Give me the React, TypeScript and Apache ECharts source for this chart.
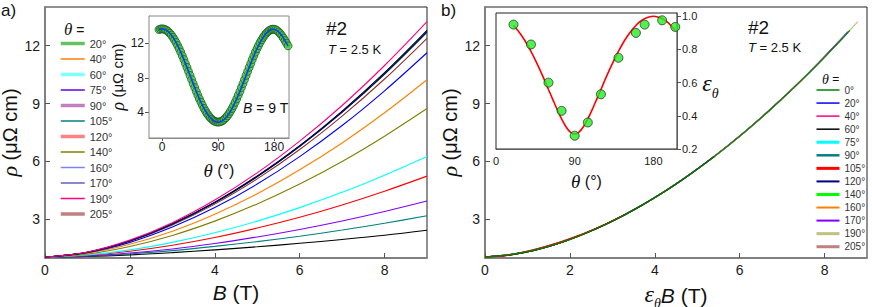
import React, { useEffect, useRef } from 'react';
import * as echarts from 'echarts';

// ---------- data ----------
const B_FIELD = [0, 1, 2, 3, 4, 5, 6, 7, 8, 9];
const THETA_ALL = [0, 20, 40, 60, 75, 90, 105, 120, 140, 160, 170, 190, 205];

const RHO_0 = [1.05, 1.3, 1.89, 2.77, 3.89, 5.25, 6.82, 8.61, 10.6, 12.79];
const RHO_20 = [1.05, 1.3, 1.89, 2.75, 3.86, 5.21, 6.77, 8.54, 10.51, 12.68];
const RHO_40 = [1.05, 1.25, 1.71, 2.39, 3.27, 4.33, 5.57, 6.96, 8.52, 10.23];
const RHO_60 = [1.05, 1.16, 1.42, 1.81, 2.31, 2.91, 3.61, 4.4, 5.29, 6.26];
const RHO_75 = [1.05, 1.11, 1.26, 1.47, 1.75, 2.09, 2.48, 2.92, 3.41, 3.95];
const RHO_90 = [1.05, 1.08, 1.16, 1.28, 1.42, 1.58, 1.76, 1.96, 2.18, 2.44];
const RHO_105 = [1.05, 1.1, 1.21, 1.38, 1.6, 1.85, 2.13, 2.45, 2.8, 3.19];
const RHO_120 = [1.05, 1.14, 1.35, 1.66, 2.06, 2.55, 3.11, 3.75, 4.46, 5.24];
const RHO_140 = [1.05, 1.21, 1.6, 2.17, 2.91, 3.8, 4.83, 6.0, 7.31, 8.74];
const RHO_160 = [1.05, 1.28, 1.81, 2.6, 3.61, 4.83, 6.25, 7.86, 9.66, 11.63];
const RHO_170 = [1.05, 1.3, 1.89, 2.76, 3.87, 5.22, 6.79, 8.56, 10.54, 12.72];
const RHO_190 = [1.05, 1.31, 1.93, 2.83, 4.0, 5.41, 7.05, 8.9, 10.97, 13.24];
const RHO_205 = [1.05, 1.29, 1.87, 2.71, 3.79, 5.1, 6.62, 8.35, 10.27, 12.38];
const RHO_BY_THETA = [RHO_0, RHO_20, RHO_40, RHO_60, RHO_75, RHO_90, RHO_105, RHO_120, RHO_140, RHO_160, RHO_170, RHO_190, RHO_205];

// scaling factor eps_theta used on the x axis of panel b (0 deg not shown in inset)
const EPS_0 = 0.955;
const EPS_THETA = [20, 40, 60, 75, 90, 105, 120, 140, 160, 170, 190, 205];
const EPS_VALUES = [0.95, 0.83, 0.6, 0.43, 0.28, 0.36, 0.53, 0.75, 0.9, 0.95, 0.976, 0.936];

// fit of eps_theta (red line in inset b)
const FIT_THETA = [20, 25, 30, 35, 40, 45, 50, 55, 60, 65, 70, 75, 80, 85, 90, 95, 100, 105, 110, 115, 120, 125, 130, 135, 140, 145, 150, 155, 160, 165, 170, 175, 180, 185, 190, 195, 200, 205];
const FIT_EPS = [0.945, 0.915, 0.878, 0.836, 0.788, 0.736, 0.68, 0.621, 0.559, 0.498, 0.437, 0.381, 0.334, 0.302, 0.29, 0.302, 0.334, 0.381, 0.437, 0.498, 0.559, 0.621, 0.68, 0.736, 0.788, 0.836, 0.878, 0.915, 0.945, 0.969, 0.986, 0.996, 1.0, 0.996, 0.986, 0.969, 0.945, 0.915];

// inset a: rho(theta) at B = 9 T
const INSET_THETA = [-5, -2.5, 0, 2.5, 5, 7.5, 10, 12.5, 15, 17.5, 20, 22.5, 25, 27.5, 30, 32.5, 35, 37.5, 40, 42.5, 45, 47.5, 50, 52.5, 55, 57.5, 60, 62.5, 65, 67.5, 70, 72.5, 75, 77.5, 80, 82.5, 85, 87.5, 90, 92.5, 95, 97.5, 100, 102.5, 105, 107.5, 110, 112.5, 115, 117.5, 120, 122.5, 125, 127.5, 130, 132.5, 135, 137.5, 140, 142.5, 145, 147.5, 150, 152.5, 155, 157.5, 160, 162.5, 165, 167.5, 170, 172.5, 175, 177.5, 180, 182.5, 185, 187.5, 190, 192.5, 195, 197.5, 200, 202.5];
const INSET_RHO = [13.62, 13.68, 13.7, 13.68, 13.62, 13.52, 13.37, 13.19, 12.97, 12.72, 12.43, 12.11, 11.76, 11.39, 10.99, 10.57, 10.13, 9.68, 9.22, 8.75, 8.28, 7.8, 7.33, 6.87, 6.42, 5.98, 5.56, 5.16, 4.79, 4.44, 4.12, 3.83, 3.58, 3.36, 3.18, 3.03, 2.93, 2.87, 2.85, 2.87, 2.93, 3.03, 3.18, 3.36, 3.58, 3.83, 4.12, 4.44, 4.79, 5.16, 5.56, 5.98, 6.42, 6.87, 7.33, 7.8, 8.28, 8.75, 9.22, 9.68, 10.13, 10.57, 10.99, 11.39, 11.76, 12.11, 12.43, 12.72, 12.97, 13.19, 13.37, 13.52, 13.62, 13.66, 13.66, 13.6, 13.5, 13.34, 13.14, 12.9, 12.63, 12.33, 12.02, 11.72];

// tick values
const MAIN_X_TICKS = [0, 2, 4, 6, 8];
const MAIN_Y_TICKS = [3, 6, 9, 12];
const INSET_A_X_TICKS = [0, 90, 180];
const INSET_A_Y_TICKS = [4, 8, 12];
const INSET_B_X_TICKS = [0, 90, 180];
const INSET_B_Y_TICKS = [0.2, 0.4, 0.6, 0.8, 1.0];

// ---------- styles ----------
const SANS = 'Arial, "Liberation Sans", Helvetica, sans-serif';
const SERIF = '"Times New Roman", "Liberation Serif", serif';

const A_LINE_COLORS: Record<number, string> = {
  0: '#000000', 20: '#008000', 40: '#ff8000', 60: '#00ffff', 75: '#8000ff', 90: '#000000',
  105: '#008080', 120: '#ff0000', 140: '#808000', 160: '#0000ff', 170: '#000080', 190: '#ff0080', 205: '#903030',
};
const A_LEGEND_STYLE: Record<number, [string, number]> = {
  20: ['#66c066', 3.5], 40: ['#ff8000', 1.5], 60: ['#80ffff', 3.5], 75: ['#6000e0', 1.5], 90: ['#c080c0', 3.5],
  105: ['#008080', 1.5], 120: ['#ff8080', 3.5], 140: ['#808000', 1.5], 160: ['#8080ff', 1.5], 170: ['#6060c0', 1.5],
  190: ['#ff0080', 1.5], 205: ['#c08080', 3.5],
};
const A_DRAW_ORDER = [90, 105, 75, 120, 60, 140, 40, 160, 205, 20, 0, 170, 190];

const B_LINE_STYLE: Record<number, [string, number]> = {
  0: ['#008000', 1.5], 20: ['#0000ff', 1.5], 40: ['#ff0080', 1.5], 60: ['#000000', 1.5], 75: ['#00ffff', 3],
  90: ['#008080', 2.5], 105: ['#ff0000', 3], 120: ['#000080', 2], 140: ['#00ff00', 3], 160: ['#ff8000', 2],
  170: ['#8000ff', 2], 190: ['#c0c080', 3], 205: ['#c08080', 3],
};
const B_DRAW_ORDER = [20, 40, 75, 90, 120, 140, 160, 170, 190, 205, 60, 105, 0];

function epsFor(theta: number): number {
  if (theta === 0) return EPS_0;
  return EPS_VALUES[EPS_THETA.indexOf(theta)];
}
function rhoFor(theta: number): number[] {
  return RHO_BY_THETA[THETA_ALL.indexOf(theta)];
}

const labelStyle = { fontFamily: SANS, color: '#1a1a1a' };

function buildOption() {
  const series: any[] = [];

  A_DRAW_ORDER.forEach((t) => {
    const rho = rhoFor(t);
    series.push({
      type: 'line', name: 'a' + t, xAxisIndex: 0, yAxisIndex: 0,
      data: B_FIELD.map((b, k) => [b, rho[k]]),
      smooth: 0.35, symbol: 'none', showSymbol: false,
      lineStyle: { color: A_LINE_COLORS[t], width: 1.1 }, itemStyle: { color: A_LINE_COLORS[t] },
      z: 3,
    });
  });

  series.push({
    type: 'scatter', name: 'insetA', xAxisIndex: 1, yAxisIndex: 1,
    data: INSET_THETA.map((t, i) => [t, INSET_RHO[i]]),
    symbol: 'circle', symbolSize: 8,
    itemStyle: { color: '#3ad13a', borderColor: '#1a3a1a', borderWidth: 0.8 }, z: 5,
  });
  series.push({
    type: 'line', name: 'insetAfit', xAxisIndex: 1, yAxisIndex: 1,
    data: INSET_THETA.map((t, i) => [t, INSET_RHO[i]]),
    smooth: 0.3, symbol: 'none', lineStyle: { color: '#2030ff', width: 1.6 }, z: 6,
  });

  B_DRAW_ORDER.forEach((t) => {
    const rho = rhoFor(t);
    const e = epsFor(t);
    const [c] = B_LINE_STYLE[t];
    series.push({
      type: 'line', name: 'b' + t, xAxisIndex: 2, yAxisIndex: 2,
      data: B_FIELD.map((b, k) => [e * b, rho[k]]),
      smooth: 0.35, symbol: 'none', showSymbol: false,
      lineStyle: { color: c, width: 1.2 }, itemStyle: { color: c }, z: 3,
    });
  });

  series.push({
    type: 'line', name: 'insetBfit', xAxisIndex: 3, yAxisIndex: 3,
    data: FIT_THETA.map((t, i) => [t, FIT_EPS[i]]),
    smooth: 0.3, symbol: 'none', lineStyle: { color: '#ff0000', width: 1.6 }, z: 5,
  });
  series.push({
    type: 'scatter', name: 'insetBpts', xAxisIndex: 3, yAxisIndex: 3,
    data: EPS_THETA.map((t, i) => [t, EPS_VALUES[i]]),
    symbol: 'circle', symbolSize: 9,
    itemStyle: { color: '#22ee22', borderColor: '#222', borderWidth: 0.9 }, z: 6,
  });

  const mainX = (gridIndex: number, name: string, rich: any, gap: number) => ({
    type: 'value', gridIndex, min: 0, max: 9,
    axisLine: { show: true, onZero: false, lineStyle: { color: '#808080', width: 2 } },
    axisTick: { show: true, inside: true, length: 5, customValues: MAIN_X_TICKS, lineStyle: { color: '#555', width: 1 } },
    axisLabel: { customValues: MAIN_X_TICKS, fontSize: 14, margin: 5, ...labelStyle },
    splitLine: { show: false },
    name, nameLocation: 'middle', nameGap: gap,
    nameTextStyle: { fontSize: 21, fontFamily: SANS, color: '#111', rich },
  });
  const mainY = (gridIndex: number) => ({
    type: 'value', gridIndex, min: 1, max: 14,
    axisLine: { show: true, onZero: false, lineStyle: { color: '#808080', width: 2 } },
    axisTick: { show: true, inside: true, length: 5, customValues: MAIN_Y_TICKS, lineStyle: { color: '#555', width: 1 } },
    axisLabel: { customValues: MAIN_Y_TICKS, fontSize: 14, margin: 5, ...labelStyle },
    splitLine: { show: false },
    name: '{r|ρ} (μΩ cm)', nameLocation: 'middle', nameGap: 20,
    nameTextStyle: {
      fontSize: 20, fontFamily: SANS, color: '#111',
      rich: { r: { fontFamily: SERIF, fontStyle: 'italic', fontSize: 22, color: '#111' } },
    },
  });

  // subscript theta: all tokens bottom-aligned, large tokens lifted by bottom padding
  const bRich = {
    e: { fontFamily: SERIF, fontStyle: 'italic', fontSize: 24, lineHeight: 22, color: '#111', verticalAlign: 'bottom', padding: [0, 0, 5, 0] },
    s: { fontFamily: SERIF, fontStyle: 'italic', fontSize: 14, lineHeight: 14, color: '#111', verticalAlign: 'bottom' },
    i: { fontFamily: SANS, fontStyle: 'italic', fontSize: 21, lineHeight: 22, color: '#111', verticalAlign: 'bottom', padding: [0, 0, 5, 0] },
    n: { fontFamily: SANS, fontSize: 21, lineHeight: 22, color: '#111', verticalAlign: 'bottom', padding: [0, 0, 5, 0] },
  };

  const xAxis = [
    mainX(0, '{i|B} (T)', { i: { fontFamily: SANS, fontStyle: 'italic', fontSize: 21, color: '#111' } }, 24),
    {
      type: 'value', gridIndex: 1, min: -21, max: 204,
      axisLine: { show: true, onZero: false, lineStyle: { color: '#888', width: 1 } },
      axisTick: { show: true, inside: false, length: 3, customValues: INSET_A_X_TICKS, lineStyle: { color: '#666' } },
      axisLabel: { customValues: INSET_A_X_TICKS, fontSize: 12, margin: 3, ...labelStyle },
      splitLine: { show: false },
      name: '{t|θ} (°)', nameLocation: 'middle', nameGap: 23,
      nameTextStyle: { fontSize: 16, fontFamily: SANS, color: '#111', rich: { t: { fontFamily: SERIF, fontStyle: 'italic', fontSize: 19, color: '#111' } } },
    },
    mainX(2, '{e|ε}{s|θ}{i|B}{n| (T)}', bRich, 15),
    {
      type: 'value', gridIndex: 3, min: 0, max: 207,
      axisLine: { show: true, onZero: false, lineStyle: { color: '#808080', width: 1.5 } },
      axisTick: { show: true, inside: true, length: 4, customValues: INSET_B_X_TICKS, lineStyle: { color: '#555' } },
      axisLabel: { customValues: INSET_B_X_TICKS, fontSize: 11, margin: 6, ...labelStyle },
      splitLine: { show: false },
      name: '{t|θ} (°)', nameLocation: 'middle', nameGap: 23,
      nameTextStyle: { fontSize: 16, fontFamily: SANS, color: '#111', rich: { t: { fontFamily: SERIF, fontStyle: 'italic', fontSize: 19, color: '#111' } } },
    },
  ];

  const yAxis = [
    mainY(0),
    {
      type: 'value', gridIndex: 1, min: 1, max: 15.2,
      axisLine: { show: true, onZero: false, lineStyle: { color: '#888', width: 1 } },
      axisTick: { show: true, inside: false, length: 4, customValues: INSET_A_Y_TICKS, lineStyle: { color: '#555' } },
      axisLabel: { customValues: INSET_A_Y_TICKS, fontSize: 12, margin: 5, ...labelStyle },
      splitLine: { show: false },
      name: '{r|ρ} (μΩ cm)', nameLocation: 'middle', nameGap: 21,
      nameTextStyle: { fontSize: 15, fontFamily: SANS, color: '#111', rich: { r: { fontFamily: SERIF, fontStyle: 'italic', fontSize: 18, color: '#111' } } },
    },
    mainY(2),
    {
      type: 'value', gridIndex: 3, min: 0.2, max: 1.02, position: 'right',
      axisLine: { show: true, onZero: false, lineStyle: { color: '#808080', width: 1.5 } },
      axisTick: { show: true, inside: false, length: 4, customValues: INSET_B_Y_TICKS, lineStyle: { color: '#555' } },
      axisLabel: { customValues: INSET_B_Y_TICKS, fontSize: 11, margin: 5, formatter: (v: number) => v.toFixed(1), ...labelStyle },
      splitLine: { show: false },
      name: '{e|ε}{s|θ}', nameLocation: 'middle', nameGap: 20, nameRotate: 0,
      nameTextStyle: { rich: bRich, padding: [16, 0, 0, 0] },
    },
  ];

  const legendFormatter = (name: string) => name.slice(1) + '°';

  const legendA = {
    type: 'plain', orient: 'vertical', left: 59, top: 38, padding: 0, itemWidth: 24, itemHeight: 10, itemGap: 4.5,
    selectedMode: false, formatter: legendFormatter,
    textStyle: { fontSize: 11, fontFamily: SANS, color: '#333' },
    data: THETA_ALL.filter((t) => t !== 0).map((t) => ({
      name: 'a' + t,
      lineStyle: { color: A_LEGEND_STYLE[t][0], width: A_LEGEND_STYLE[t][1] },
      itemStyle: { color: A_LEGEND_STYLE[t][0], opacity: 0, borderWidth: 0 },
    })),
  };
  const legendB = {
    type: 'plain', orient: 'vertical', left: 815, top: 85, padding: 0, itemWidth: 23, itemHeight: 10, itemGap: 3.06,
    selectedMode: false, formatter: legendFormatter,
    textStyle: { fontSize: 10, fontFamily: SANS, color: '#333' },
    data: THETA_ALL.map((t) => ({
      name: 'b' + t,
      lineStyle: { color: B_LINE_STYLE[t][0], width: B_LINE_STYLE[t][1] },
      itemStyle: { color: B_LINE_STYLE[t][0], opacity: 0, borderWidth: 0 },
    })),
  };

  const txt = (x: number, y: number, text: string, size: number, rich?: any) => ({
    type: 'text', x, y, z: 50,
    style: { text, fontSize: size, fontFamily: SANS, fill: '#111', rich },
  });
  const italicRich = (size: number) => ({ i: { fontStyle: 'italic', fontFamily: SANS, fontSize: size, fill: '#111' } });
  const thetaRich = (size: number) => ({ t: { fontStyle: 'italic', fontFamily: SERIF, fontSize: size, fill: '#111' } });

  const graphic = [
    txt(1, 2, 'a)', 17),
    txt(441, 2, 'b)', 17),
    txt(326, 19, '#2', 19),
    txt(328, 43, '{i|T} = 2.5 K', 13, italicRich(13)),
    txt(748, 18, '#2', 19),
    txt(748, 41, '{i|T} = 2.5 K', 13, italicRich(13)),
    txt(243, 101, '{i|B} = 9 T', 14, italicRich(14)),
    txt(64, 21, '{t|θ} =', 14, thetaRich(17)),
    txt(822, 72, '{t|θ} =', 12, thetaRich(14)),
  ];

  return {
    animation: false,
    backgroundColor: '#ffffff',
    textStyle: { fontFamily: SANS },
    grid: [
      { left: 45, top: 7, width: 382, height: 251, show: true, borderColor: '#222', borderWidth: 1, backgroundColor: 'transparent', containLabel: false, outerBoundsMode: 'none' },
      { left: 149, top: 16, width: 140, height: 122, show: true, borderColor: '#888', borderWidth: 1, backgroundColor: '#ffffff', containLabel: false, outerBoundsMode: 'none', z: 4 },
      { left: 485, top: 7, width: 382, height: 251, show: true, borderColor: '#222', borderWidth: 1, backgroundColor: 'transparent', containLabel: false, outerBoundsMode: 'none' },
      { left: 496, top: 13, width: 181, height: 136, show: true, borderColor: '#222', borderWidth: 1, backgroundColor: '#ffffff', containLabel: false, outerBoundsMode: 'none', z: 4 },
    ],
    xAxis,
    yAxis,
    legend: [legendA, legendB],
    series,
    graphic,
  };
}

export default function App() {
  const ref = useRef<HTMLDivElement>(null);
  useEffect(() => {
    document.body.style.margin = '0';
    const chart = echarts.init(ref.current as HTMLDivElement, null, { renderer: 'svg' });
    chart.setOption(buildOption() as any);
    return () => chart.dispose();
  }, []);
  return <div ref={ref} style={{ width: 872, height: 307 }} />;
}
